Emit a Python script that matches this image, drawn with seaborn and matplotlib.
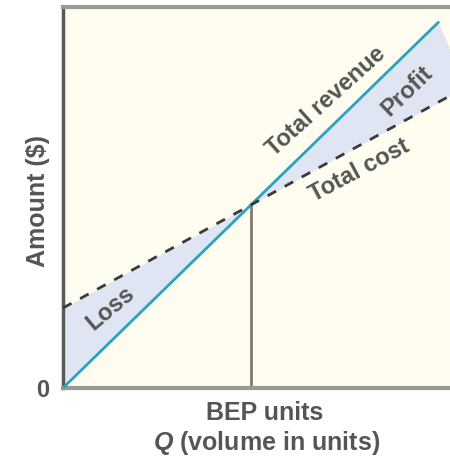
import matplotlib
matplotlib.use("Agg")
import matplotlib.pyplot as plt
import seaborn as sns
import pandas as pd

# Break-even chart values (volume on x, dollars on y)
rev_q = [0, 9.7]
revenue = [0, 96]
cost_q = [0, 10]
total_cost = [21, 76.7]
bep_q = 4.85
bep_amount = 48

# Shaded loss / profit wedges
loss_q = [0, 4.85]
loss_upper = [21, 48]
loss_lower = [0, 48]
profit_q = [4.85, 9.7, 10]
profit_upper = [48, 96, 88.7]
profit_lower = [48, 75, 76.7]

sns.set_style("white")
plt.rcParams["font.family"] = ["Liberation Sans", "DejaVu Sans"]
plt.rcParams["mathtext.fontset"] = "custom"
plt.rcParams["mathtext.it"] = "Liberation Sans:italic:bold"

text_color = "#555555"
fig = plt.figure(figsize=(4.5, 4.61), dpi=100)
ax = fig.add_axes([63 / 450, 1 - 388 / 461, 1 - 63 / 450, (388 - 7) / 461])
ax.set_facecolor("#fefdf0")

ax.fill_between(loss_q, loss_lower, loss_upper, color="#dfe5f3", lw=0, zorder=1)
ax.fill_between(profit_q, profit_lower, profit_upper, color="#dfe5f3", lw=0, zorder=1)

ax.plot([bep_q, bep_q], [0, bep_amount], color="#7d7b76", lw=2, zorder=2)

rev_df = pd.DataFrame({"q": rev_q, "amount": revenue})
cost_df = pd.DataFrame({"q": cost_q, "amount": total_cost})
sns.lineplot(data=rev_df, x="q", y="amount", ax=ax, color="#2aa3bc", lw=2.0, zorder=3)
sns.lineplot(data=cost_df, x="q", y="amount", ax=ax, color="#3a3a3a", lw=2.0,
             zorder=4, dashes=False, linestyle=(0, (3.5, 3.5)))

ax.set_xlim(0, 10)
ax.set_ylim(0, 100)

for side in ["top", "bottom"]:
    ax.spines[side].set_color("#9b9992")
    ax.spines[side].set_linewidth(3)
ax.spines["left"].set_color("#5a5a5a")
ax.spines["left"].set_linewidth(2.5)
ax.spines["right"].set_visible(False)

ax.set_xticks([])
ax.set_yticks([0])
ax.set_yticklabels(["0"], fontsize=17, color=text_color, fontweight="bold")
ax.tick_params(axis="y", length=0, pad=10)
ax.set_xlabel("")
ax.set_ylabel("Amount ($)", fontsize=18, color=text_color, fontweight="bold")
ax.yaxis.set_label_coords(-0.034, 0.49)

ax.text(bep_q + 0.35, -6.5, "BEP units", ha="center", va="center", fontsize=18,
        color=text_color, fontweight="bold", clip_on=False)
ax.text(bep_q + 0.4, -14.5, r"$\it{Q}$ (volume in units)", ha="center", va="center",
        fontsize=18, color=text_color, fontweight="bold", clip_on=False)

label_kw = dict(ha="center", va="center", fontsize=17, color=text_color,
                fontweight="bold", zorder=5)
ax.text(6.8, 75.3, "Total revenue", rotation=42, **label_kw)
ax.text(8.9, 78, "Profit", rotation=44, **label_kw)
ax.text(7.67, 57, "Total cost", rotation=28, **label_kw)
ax.text(1.22, 21, "Loss", rotation=40, **label_kw)

fig.savefig("out.png", dpi=100)
